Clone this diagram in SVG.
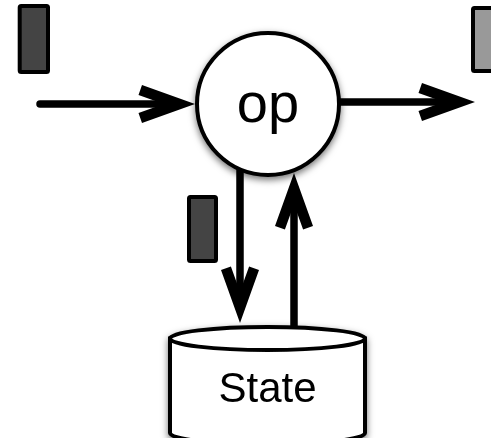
<svg xmlns="http://www.w3.org/2000/svg" width="491" height="438" viewBox="0 0 491 438">
  <style>
    .token { stroke: #000; stroke-width: 4; }
    .dark { fill: #444; }
    .light { fill: #999; }
    .shape { fill: #fff; stroke: #000; stroke-width: 4; }
    .flow { fill: none; stroke: #000; stroke-width: 7.5; stroke-linecap: round; marker-end: url(#chevron); }
    .label { font-family: "Liberation Sans", Arial, Helvetica, sans-serif; fill: #000; text-anchor: middle; }
  </style>
  <defs>
    <!-- thick open arrowhead; tip sits 15px past the end of the shaft -->
    <marker id="chevron" markerUnits="userSpaceOnUse" viewBox="-60 -22 62 44" markerWidth="62" markerHeight="44" refX="-15" refY="0" orient="auto" overflow="visible">
      <path d="M0,0 L-53,-19 L-56.5,-9.1 L-31.2,0 L-56.5,9.1 L-53,19 Z" fill="#000"/>
    </marker>
    <filter id="soft-shadow" x="-20%" y="-20%" width="140%" height="150%">
      <feDropShadow dx="0" dy="3" stdDeviation="3.5" flood-color="#000" flood-opacity="0.55"/>
    </filter>
  </defs>

  <!-- data tokens -->
  <g id="token-in">
    <rect class="token dark" x="19.7" y="6" width="28.3" height="66" rx="1.5"/>
  </g>
  <g id="token-out">
    <rect class="token light" x="473" y="8" width="30" height="63" rx="1.5"/>
  </g>
  <g id="token-state">
    <rect class="token dark" x="189" y="197" width="27" height="64" rx="1.5"/>
  </g>

  <!-- connectors -->
  <g id="connectors">
    <path id="edge-in" class="flow" d="M40,104 L180,104"/>
    <path id="edge-out" class="flow" d="M337,102 L460,102"/>
    <path id="edge-write" class="flow" d="M240,168 L240,308"/>
    <path id="edge-read" class="flow" d="M294,330 L294,188"/>
  </g>

  <!-- operator -->
  <g id="op" filter="url(#soft-shadow)">
    <circle class="shape" cx="268" cy="104" r="71"/>
    <text class="label" x="268" y="122" font-size="56">op</text>
  </g>

  <!-- state store -->
  <g id="state" filter="url(#soft-shadow)">
    <path class="shape" d="M170,338.5 L170,433 A97.5,11.5 0 0 0 365,433 L365,338.5 Z"/>
    <ellipse class="shape" cx="267.5" cy="338.5" rx="97.5" ry="11.5"/>
    <text class="label" x="267.5" y="402" font-size="42">State</text>
  </g>
</svg>
